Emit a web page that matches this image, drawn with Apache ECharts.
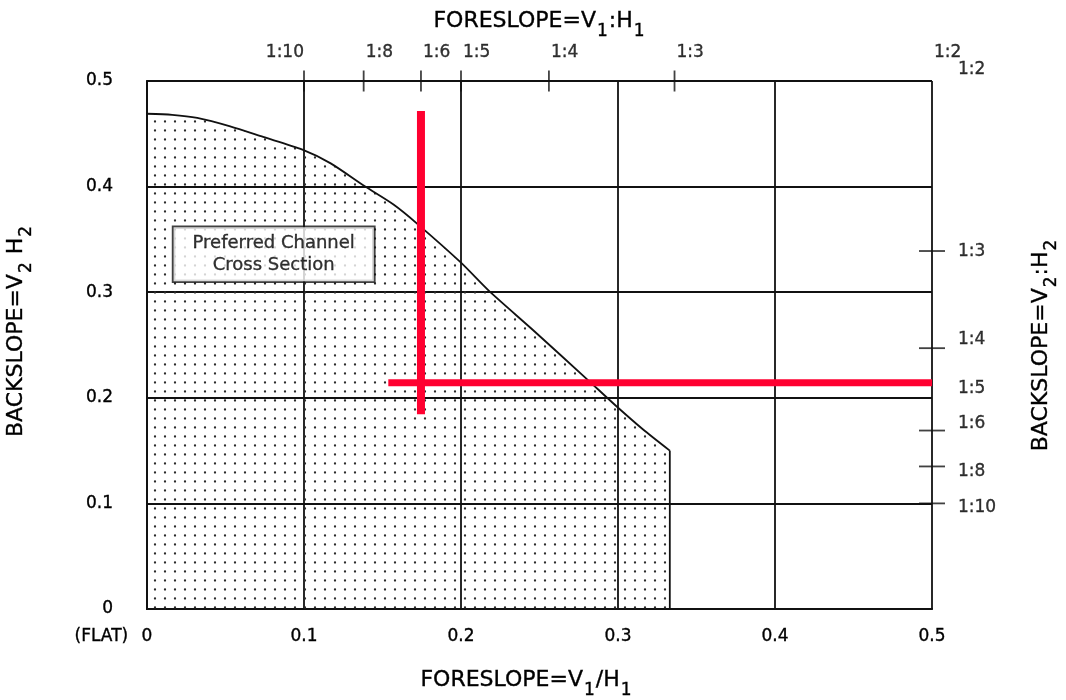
<!DOCTYPE html>
<html><head><meta charset="utf-8">
<script src="https://cdn.jsdelivr.net/npm/echarts@6/dist/echarts.min.js"></script>
<style>html,body{margin:0;padding:0;background:#fff}#c{width:1066px;height:700px}</style>
</head><body><div id="c"></div>
<script>
// ---- data ----
const boundaryCurve = [[0,0.469],[0.016,0.468],[0.032,0.465],[0.053,0.457],[0.074,0.447],[0.099,0.435],[0.117,0.422],[0.139,0.400],[0.157,0.383],[0.172,0.365],[0.200,0.328],[0.218,0.301],[0.246,0.264],[0.280,0.218],[0.299,0.192],[0.316,0.170],[0.333,0.150]];
const boundaryEdge = [[0.333,0.150],[0.333,0]];
const redVertical = [[0.1745,0.4716],[0.1745,0.1844]];
const redHorizontal = [[0.1537,0.2143],[0.5,0.2143]];
const topTickValues = [0.1,0.138,0.1745,0.2,0.256,0.336];
const topLabelValues = [0.1,0.138,0.1745,0.2,0.256,0.336,0.5];
const topLabels = ['1:10','1:8','1:6','1:5','1:4','1:3','1:2'];
const rightTickValues = [0.339,0.247,0.169,0.135,0.1];
const rightLabelValues = [0.511,0.338,0.255,0.209,0.176,0.130,0.096];
const rightLabels = ['1:2','1:3','1:4','1:5','1:6','1:8','1:10'];
const annotationAt = [0.0807,0.336];
const annotationText = 'Preferred Channel\nCross Section';

// ---- styling ----
const FONT = 'DejaVu Sans';
const INK = '#000';
const TXT = {color: INK, fontFamily: FONT, textBorderColor: INK, textBorderWidth: 0.35};
const pat = document.createElement('canvas');
pat.width = 10; pat.height = 9;
const pc = pat.getContext('2d');
pc.fillStyle = '#2a2a2a';
pc.beginPath(); pc.arc(5, 4.5, 1.15, 0, Math.PI * 2); pc.fill();

function nameRich(){
  return {
    m: Object.assign({fontSize: 22}, TXT),
    s: Object.assign({fontSize: 17, padding: [20, 1, 0, 1]}, TXT)
  };
}
const lineStyleAxis = {color: '#111', width: 1.8};

const chart = echarts.init(document.getElementById('c'));
chart.setOption({
  animation: false,
  backgroundColor: '#fff',
  grid: {left: 147, right: 134, top: 81, bottom: 91, containLabel: false, outerBoundsMode: 'none'},
  xAxis: [{
    type: 'value', position: 'bottom', min: 0, max: 0.5, interval: 0.1,
    axisLine: {show: true, lineStyle: lineStyleAxis},
    axisTick: {show: false},
    splitLine: {show: true, lineStyle: lineStyleAxis},
    axisLabel: Object.assign({
      margin: 19, fontSize: 17,
      formatter: v => v === 0 ? '{f|(FLAT) }{z|0}{p|}' : String(+v.toFixed(1)),
      rich: {
        f: Object.assign({width: 75, align: 'right', fontSize: 17}, TXT),
        z: Object.assign({fontSize: 17}, TXT),
        p: {width: 75}
      }
    }, TXT),
    name: '{m|FORESLOPE=V}{s|1}{m|/H}{s|1}',
    nameLocation: 'middle', nameGap: 53,
    nameTextStyle: {rich: nameRich(), padding: [0, 26, 0, 0]}
  }, {
    type: 'value', position: 'top', min: 0, max: 0.5, interval: 0.1,
    axisLine: {show: true, lineStyle: lineStyleAxis},
    axisTick: {show: false}, axisLabel: {show: false}, splitLine: {show: false},
    name: '{m|FORESLOPE=V}{s|1}{m|:H}{s|1}',
    nameLocation: 'middle', nameGap: 41,
    nameTextStyle: {rich: nameRich()}
  }],
  yAxis: [{
    type: 'value', position: 'left', min: 0, max: 0.5, interval: 0.1,
    axisLine: {show: true, lineStyle: lineStyleAxis},
    axisTick: {show: false},
    splitLine: {show: true, lineStyle: lineStyleAxis},
    axisLabel: Object.assign({margin: 34, fontSize: 17,
      formatter: v => String(+v.toFixed(1))}, TXT),
    name: '{m|BACKSLOPE=V}{s|2}{m| H}{s|2}',
    nameLocation: 'middle', nameGap: 112, nameRotate: 90,
    nameTextStyle: {rich: nameRich(), padding: [0, 0, 0, 28]}
  }, {
    type: 'value', position: 'right', min: 0, max: 0.5, interval: 0.1,
    axisLine: {show: true, lineStyle: lineStyleAxis},
    axisTick: {show: false}, axisLabel: {show: false}, splitLine: {show: false},
    name: '{m|BACKSLOPE=V}{s|2}{m|:H}{s|2}',
    nameLocation: 'middle', nameGap: 91, nameRotate: 90,
    nameTextStyle: {rich: nameRich()}
  }],
  series: [
    {
      type: 'line', data: boundaryCurve, symbol: 'none', smooth: 0.25,
      lineStyle: {color: '#111', width: 1.8},
      areaStyle: {color: {image: pat, repeat: 'repeat'}, opacity: 1, origin: 'start'},
      z: 3
    },
    {
      type: 'line', data: boundaryEdge, symbol: 'none',
      lineStyle: {color: '#111', width: 1.8}, z: 3
    },
    {
      type: 'scatter', clip: false, data: topTickValues.map(v => [v, 0.5]),
      symbol: 'rect', symbolSize: [1.8, 21], itemStyle: {color: '#111'}, z: 4, silent: true
    },
    {
      type: 'scatter', clip: false, data: rightTickValues.map(v => [0.5, v]),
      symbol: 'rect', symbolSize: [26, 1.8], itemStyle: {color: '#111'}, z: 4, silent: true
    },
    {
      type: 'scatter', clip: false, symbolSize: 0, silent: true,
      data: topLabelValues.map((v, i) => ({
        value: [v, 0.5], name: topLabels[i],
        label: {align: topLabels[i] === '1:10' ? 'right' : 'left', offset: [topLabels[i] === '1:10' ? 0 : 2, 0]}
      })),
      label: Object.assign({show: true, position: 'top', distance: 20, formatter: p => p.name,
        fontSize: 17}, TXT)
    },
    {
      type: 'scatter', clip: false, symbolSize: 0, silent: true,
      data: rightLabelValues.map((v, i) => ({value: [0.5, v], name: rightLabels[i]})),
      label: Object.assign({show: true, position: 'right', distance: 26, formatter: p => p.name,
        fontSize: 17}, TXT)
    },
    {
      type: 'scatter', clip: false, symbolSize: 0, silent: true, z: 6,
      data: [{value: annotationAt, name: annotationText}],
      label: Object.assign({show: true, position: 'inside', formatter: p => p.name,
        fontSize: 18, lineHeight: 22, align: 'center',
        backgroundColor: '#fff', borderColor: '#111', borderWidth: 1.8, padding: [5, 19]}, TXT)
    },
    {
      type: 'line', data: redVertical, symbol: 'none', z: 8,
      lineStyle: {color: '#ff0030', width: 8, cap: 'butt'}
    },
    {
      type: 'line', data: redHorizontal, symbol: 'none', z: 8,
      lineStyle: {color: '#ff0030', width: 7, cap: 'butt'}
    }
  ]
});
</script></body></html>
